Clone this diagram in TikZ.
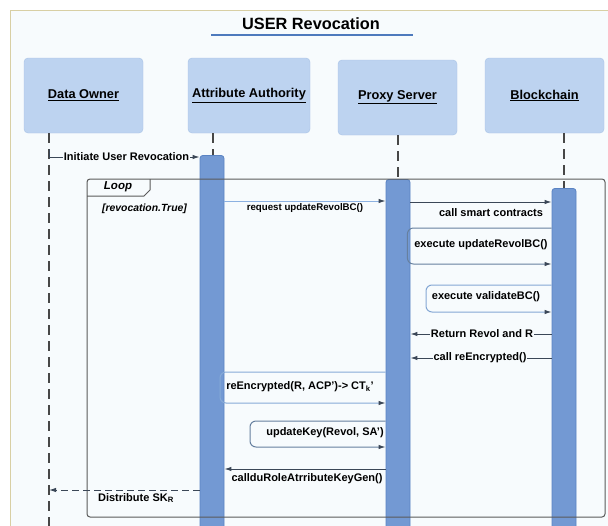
\documentclass[tikz,border=0pt]{standalone}
\usepackage{fontspec}
\setmainfont{Liberation Sans}
\usetikzlibrary{arrows.meta}

\definecolor{pagebg}{HTML}{F7FBFD}
\definecolor{framecol}{HTML}{D8CFA4}
\definecolor{boxfill}{HTML}{BDD3F0}
\definecolor{boxline}{HTML}{A8C2E6}
\definecolor{barfill}{HTML}{7399D3}
\definecolor{barline}{HTML}{5A83C3}
\definecolor{titleline}{HTML}{4E7ABD}
\definecolor{msgdark}{HTML}{3B4757}
\definecolor{msgmid}{HTML}{66809F}
\definecolor{msglight}{HTML}{8CB1E1}
\definecolor{lifecol}{HTML}{474747}
\definecolor{loopcol}{HTML}{5A5A5A}

\begin{document}
\begin{tikzpicture}[x=1pt,y=-1pt,
  participant/.style={draw=boxline, fill=boxfill, rounded corners=4pt,
    minimum width=119pt, minimum height=75pt, inner sep=0pt,
    font=\fontsize{12.8}{14}\selectfont\bfseries, text=black},
  lifeline/.style={draw=lifecol, line width=1.1pt, dash pattern=on 10pt off 6pt},
  actbar/.style={draw=barline, fill=barfill, line width=0.8pt, rounded corners=3pt,
    minimum width=24pt, inner sep=0pt, anchor=north},
  msgfont/.style={font=\fontsize{11}{13}\selectfont\bfseries, text=black, inner sep=1pt},
  onlabel/.style={msgfont, fill=pagebg},
  tip/.style={-{Latex[length=7pt,width=4.5pt,color=msgdark]}},
  msg/.style={line width=1pt, tip},
  selfmsg/.style={msg, rounded corners=6pt},
]
\useasboundingbox (0,0) rectangle (608,525);
\clip (0,0) rectangle (608,525);

% page and outer frame
\fill[white] (0,0) rectangle (608,525);
\fill[pagebg] (10,10) rectangle (640,560);
\draw[framecol, line width=1pt] (10,10) rectangle (640,560);

% title
\node[font=\fontsize{16.3}{18}\selectfont\bfseries] (title) at (311,24) {USER Revocation};
\draw[titleline, line width=2pt] (211,35) -- (413,35);

% participants
\node[participant] (do) at (83.5,95.5) {\underline{Data Owner}};
\node[participant, minimum width=122pt] (aa) at (249,95.5) {\underline{Attribute Authority}};
\node[participant] (px) at (397.5,97.5) {\underline{Proxy Server}};
\node[participant] (bc) at (544.5,95.5) {\underline{Blockchain}};

% lifeline positions
\coordinate (doline) at (49,0);
\coordinate (aaline) at (213,0);
\coordinate (pxline) at (398,0);
\coordinate (bcline) at (564,0);

% activation bars
\node[actbar, minimum height=380pt] (aabar) at (212,155) {};
\node[actbar, minimum height=360pt] (pxbar) at (398,179) {};
\node[actbar, minimum height=350pt] (bcbar) at (564,188) {};

% lifelines
\draw[lifeline] (do.south -| doline) -- (doline |- 0,530);
\draw[lifeline] (aa.south -| aaline) -- (aabar.north -| aaline);
\draw[lifeline] (px.south -| pxline) -- (pxbar.north -| pxline);
\draw[lifeline] (bc.south -| bcline) -- (bcbar.north -| bcline);

% loop fragment
\draw[loopcol, line width=1pt, rounded corners=3pt] (87,179) rectangle (605,517);
\draw[loopcol, line width=1pt] (87,196) -- (144,196) -- (150,190) -- (150,179);
\node[font=\fontsize{11.5}{13}\selectfont\bfseries\itshape] (looplbl) at (118,187) {Loop};
\node[font=\fontsize{10.4}{12}\selectfont\bfseries\itshape] (guard) at (144.5,209) {[revocation.True]};

% messages
\draw[msgdark, msg] (doline |- 0,149) -- (doline |- 0,157) -- (aabar.west |- 0,157);
\node[onlabel] (m1) at (126.5,157) {Initiate User Revocation};

\draw[msglight, msg] (aabar.east |- 0,201) -- (pxbar.west |- 0,201);
\node[msgfont, font=\fontsize{9.7}{11}\selectfont\bfseries] (m2) at (305,208) {request updateRevolBC()};

\draw[msgdark, msg] (pxbar.east |- 0,202) -- (bcbar.west |- 0,202);
\node[msgfont] (m3) at (491,213) {call smart contracts};

\draw[msgmid, selfmsg] (bcbar.west |- 0,228) -- ([xshift=-3pt]pxbar.east |- 0,228)
  -- ([xshift=-3pt]pxbar.east |- 0,264) -- (bcbar.west |- 0,264);
\node[msgfont] (m4) at (481,245) {execute updateRevolBC()};

\draw[msglight!80!msgmid, selfmsg] (bcbar.west |- 0,285) -- (426,285)
  -- (426,312) -- (bcbar.west |- 0,312);
\node[msgfont] (m5) at (486,297) {execute validateBC()};

\draw[msgdark, msg] (bcbar.west |- 0,334) -- (pxbar.east |- 0,334);
\node[onlabel] (m6) at (482,334) {Return Revol and R};

\draw[msgdark, msg] (bcbar.west |- 0,358) -- (pxbar.east |- 0,358);
\node[onlabel] (m7) at (480,358) {call reEncrypted()};

\draw[msglight!85!msgmid, selfmsg] (pxbar.west |- 0,372) -- (220,372)
  -- (220,403) -- (pxbar.west |- 0,403);
\node[msgfont] (m8) at (300,387) {reEncrypted(R, ACP')-> CT\textsubscript{k}'};

\draw[msgmid, selfmsg] (pxbar.west |- 0,421) -- (250,421)
  -- (250,447) -- (pxbar.west |- 0,447);
\node[msgfont] (m9) at (325,433) {updateKey(Revol, SA')};

\draw[msgdark, msg] (pxbar.west |- 0,469) -- (aabar.east |- 0,469);
\node[msgfont] (m10) at (307,479) {callduRoleAtrributeKeyGen()};

\draw[msgdark, msg, dashed, dash pattern=on 7pt off 4pt] (aabar.west |- 0,490) -- (doline |- 0,490);
\node[msgfont] (m11) at (136,498) {Distribute SK\textsubscript{R}};
\end{tikzpicture}
\end{document}
